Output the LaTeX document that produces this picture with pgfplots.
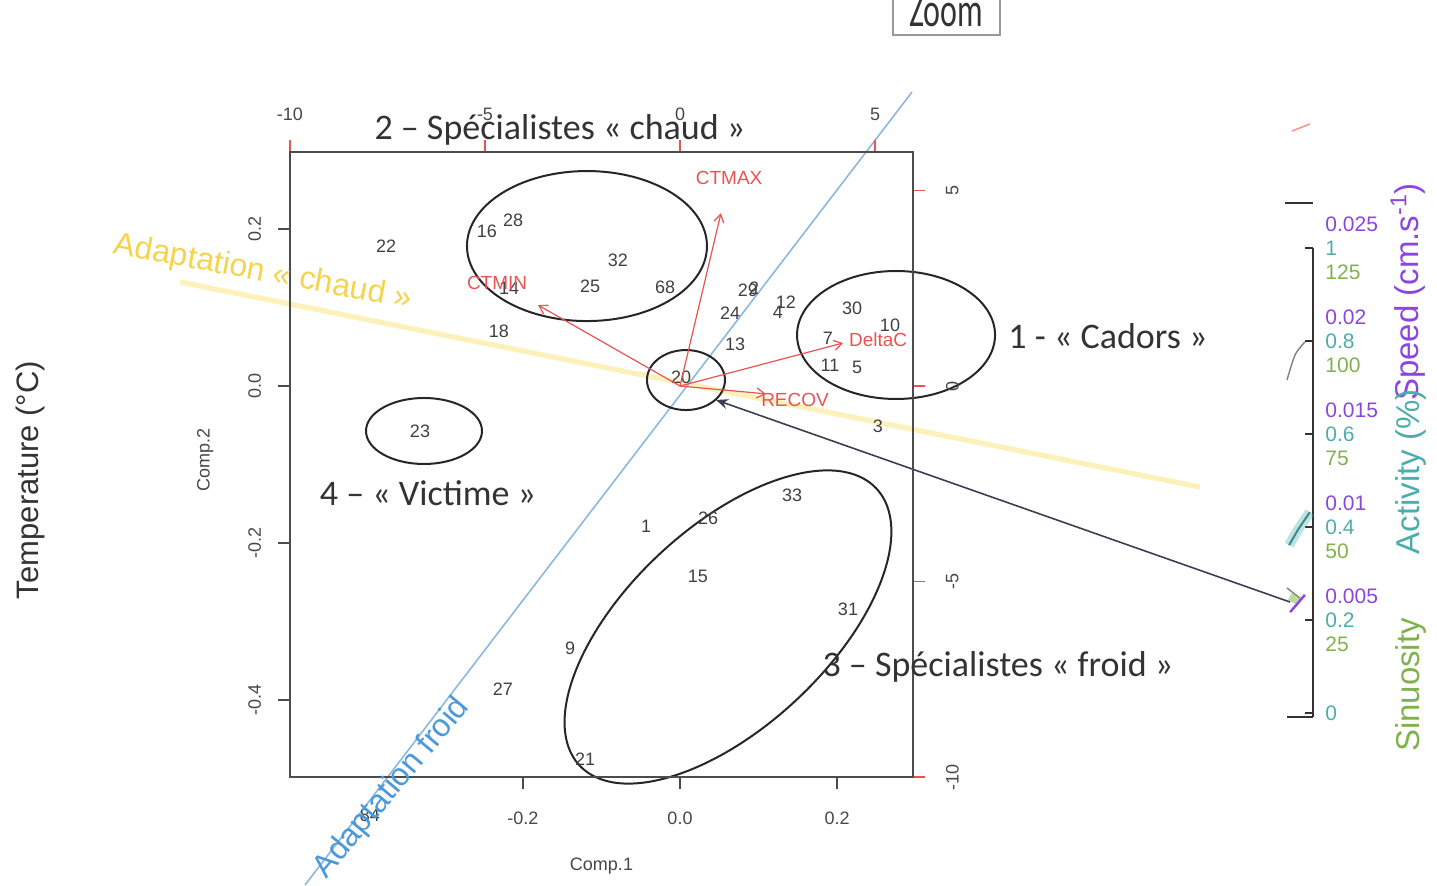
\documentclass[border=0pt]{standalone}
\usepackage{pgfplots}
\pgfplotsset{compat=1.18}
\usepackage{pgfplotstable}
\usepackage{fontspec}
\setmainfont{Liberation Sans}
\newfontfamily\calib{Carlito}
\usetikzlibrary{arrows.meta}

\definecolor{rtxt}{rgb}{0.28,0.28,0.28}
\definecolor{loadred}{rgb}{0.92,0.32,0.32}
\definecolor{froid}{rgb}{0.55,0.72,0.88}
\definecolor{froidtxt}{rgb}{0.30,0.60,0.85}
\definecolor{chaudline}{rgb}{0.99,0.94,0.70}
\definecolor{chaudtxt}{rgb}{0.96,0.83,0.30}
\definecolor{pointer}{rgb}{0.22,0.25,0.32}
\definecolor{spd}{rgb}{0.55,0.27,0.88}
\definecolor{act}{rgb}{0.30,0.68,0.68}
\definecolor{sinu}{rgb}{0.50,0.70,0.30}

% individual scores (Comp.1, Comp.2)
\pgfplotstableread{
x y lab
-0.3745 0.1783 22
-0.2459 0.1975 16
-0.2127 0.2115 28
-0.0790 0.1605 32
-0.1146 0.1274 25
-0.0191 0.1261 68
-0.2178 0.1248 14
-0.2306 0.0701 18
0.0866 0.1223 29
0.0943 0.1248 2
0.0637 0.0930 24
0.1350 0.1070 12
0.1248 0.0943 4
0.0701 0.0535 13
0.2191 0.0994 30
0.2675 0.0777 10
0.1885 0.0611 7
0.1911 0.0268 11
0.2255 0.0242 5
0.0013 0.0115 20
0.2522 -0.0510 3
-0.3312 -0.0573 23
-0.0433 -0.1783 1
0.0357 -0.1682 26
0.1427 -0.1389 33
0.0229 -0.2420 15
0.2140 -0.2841 31
-0.1401 -0.3338 9
-0.2255 -0.3860 27
-0.1210 -0.4752 21
-0.3949 -0.5465 84
}\scores

% variable loadings, label positions
\pgfplotstableread{
x y lab
1.26 5.32 CTMAX
-4.69 2.63 CTMIN
5.08 1.18 DeltaC
2.95 -0.36 RECOV
}\loadlab

\begin{document}
\begin{tikzpicture}
\useasboundingbox (0,0) rectangle (718.5pt,-442.5pt);
\clip (0,0) rectangle (718.5pt,-442.5pt);

% main biplot axis (scores)
\begin{axis}[
  at={(145pt,-388.5pt)}, anchor=south west,
  scale only axis, width=311.5pt, height=312.5pt,
  xmin=-0.4968, xmax=0.2968, ymin=-0.4981, ymax=0.2981,
  clip=false,
  axis line style={black!70, line width=0.8pt},
  tick style={black!70, line width=0.6pt},
  tick align=outside, major tick length=6pt,
  xtick pos=left, ytick pos=left,
  xtick={-0.2,0,0.2}, xticklabels={-0.2,0.0,0.2},
  ytick={-0.4,-0.2,0,0.2}, yticklabels={-0.4,-0.2,0.0,0.2},
  ticklabel style={font=\fontsize{9}{10}\selectfont, text=rtxt},
  xticklabel style={yshift=-8pt},
  yticklabel style={rotate=90, anchor=south, yshift=5pt},
  xlabel={Comp.1}, ylabel={Comp.2},
  xlabel style={at={(axis description cs:0.5,-0.142)}, anchor=center, font=\fontsize{9}{10}\selectfont, text=rtxt},
  ylabel style={at={(axis description cs:-0.136,0.507)}, anchor=center, font=\fontsize{9}{10}\selectfont, text=rtxt},
]
% interpretation lines
\addplot[chaudline, line width=2.6pt, opacity=0.9] coordinates {(-0.6369,0.1325) (0.6624,-0.1287)};
\addplot[froid, line width=0.8pt] coordinates {(-0.4777,-0.6357) (0.2955,0.3745)};
\addplot[pointer, line width=0.8pt, -{Stealth[length=6pt,width=5pt]}] coordinates {(0.7771,-0.2752) (0.0459,-0.0178)};

% score labels
\addplot[draw=none, mark=none, nodes near coords, point meta=explicit symbolic,
  nodes near coords align=center,
  every node near coord/.append style={font=\fontsize{9}{10}\selectfont, text=black!75, inner sep=0pt, anchor=center}]
  table[meta=lab] {\scores};

% groups
\draw[black!85, line width=1pt] (axis cs:-0.1185,0.1783) ellipse [x radius=60pt, y radius=37.5pt];
\draw[black!85, line width=1pt] (axis cs:0.0076,0.0076) ellipse [x radius=19.5pt, y radius=15pt];
\draw[black!85, line width=1pt] (axis cs:0.2752,0.0650) ellipse [x radius=49.5pt, y radius=32pt];
\draw[black!85, line width=1pt] (axis cs:-0.3261,-0.0573) ellipse [x radius=29pt, y radius=16.5pt];
\draw[black!85, line width=1pt, rotate around={43:(axis cs:0.0611,-0.3070)}] (axis cs:0.0611,-0.3070) ellipse [x radius=101.5pt, y radius=50pt];
\end{axis}

% loadings axis (top and right)
\begin{axis}[
  at={(145pt,-388.5pt)}, anchor=south west,
  scale only axis, width=311.5pt, height=312.5pt,
  xmin=-10, xmax=5.974, ymin=-10, ymax=5.985,
  clip=false,
  axis line style={black!70, line width=0.8pt},
  tick style={loadred, line width=0.6pt},
  tick align=outside, major tick length=6pt,
  xtick pos=right, ytick pos=right,
  xticklabel pos=right, yticklabel pos=right,
  xtick={-10,-5,0,5}, xticklabels={-10,-5,0,5},
  ytick={-10,-5,0,5}, yticklabels={-10,-5,0,5},
  ticklabel style={font=\fontsize{9}{10}\selectfont, text=rtxt},
  xticklabel style={yshift=6pt},
  yticklabel style={rotate=90, anchor=north, yshift=-7pt},
]
\addplot[loadred, line width=0.6pt, -{Straight Barb[length=4pt,width=5pt]}] coordinates {(0,0) (1.05,4.42)};
\addplot[loadred, line width=0.6pt, -{Straight Barb[length=4pt,width=5pt]}] coordinates {(0,0) (-3.64,2.07)};
\addplot[loadred, line width=0.6pt, -{Straight Barb[length=4pt,width=5pt]}] coordinates {(0,0) (4.18,1.10)};
\addplot[loadred, line width=0.6pt, -{Straight Barb[length=4pt,width=5pt]}] coordinates {(0,0) (2.2,-0.2)};
\addplot[draw=none, mark=none, nodes near coords, point meta=explicit symbolic,
  nodes near coords align=center,
  every node near coord/.append style={font=\fontsize{9.5}{10}\selectfont, text=loadred, inner sep=0pt, anchor=center}]
  table[meta=lab] {\loadlab};
\end{axis}

% cropped fragment of the neighbouring panel
\begin{axis}[
  at={(643.5pt,-358.5pt)}, anchor=south west,
  scale only axis, width=13pt, height=234.5pt,
  xmin=0, xmax=1, ymin=-0.0086, ymax=1.0,
  clip=false,
  axis x line*=bottom, axis y line*=right,
  xtick=\empty,
  ytick={0,0.2,0.4,0.6,0.8,1},
  yticklabels={
    {\textcolor{act}{0}},
    {\textcolor{spd}{0.005}\\\textcolor{act}{0.2}\\\textcolor{sinu}{25}},
    {\textcolor{spd}{0.01}\\\textcolor{act}{0.4}\\\textcolor{sinu}{50}},
    {\textcolor{spd}{0.015}\\\textcolor{act}{0.6}\\\textcolor{sinu}{75}},
    {\textcolor{spd}{0.02}\\\textcolor{act}{0.8}\\\textcolor{sinu}{100}},
    {\textcolor{spd}{0.025}\\\textcolor{act}{1}\\\textcolor{sinu}{125}}},
  tick align=inside, major tick length=4pt,
  axis line style={black!80, line width=1pt},
  tick style={black!80, line width=1pt},
  yticklabel style={anchor=west, align=left, font=\fontsize{10.5}{12}\selectfont, inner sep=0pt, xshift=6pt},
]
\addplot[gray, line width=0.7pt, smooth] coordinates {(0,0.716) (0.31,0.77) (0.69,0.798)};
\addplot[gray, line width=0.7pt] coordinates {(0,0.269) (0.5,0.247)};
\addplot[act, line width=5pt, opacity=0.35] coordinates {(0.08,0.361) (0.42,0.394) (0.88,0.432)};
\addplot[act!80!black, line width=1pt] coordinates {(0.08,0.361) (0.42,0.394) (0.88,0.432)};
\addplot[sinu, line width=4pt, opacity=0.5] coordinates {(0.1,0.25) (0.5,0.24)};
\addplot[spd, line width=1.2pt] coordinates {(0.12,0.217) (0.69,0.254)};
\end{axis}

\begin{scope}[x=0.5pt,y=-0.5pt]
\node[font=\calib\fontsize{18}{20}\selectfont, text=black!80] at (560,130) {2 – Spécialistes « chaud »};
\node[font=\calib\fontsize{18}{20}\selectfont, text=black!80] at (1108,336) {1 - « Cadors »};
\node[font=\calib\fontsize{18}{20}\selectfont, text=black!80] at (428,493) {4 – « Victime »};
\node[font=\calib\fontsize{18}{20}\selectfont, text=black!80] at (998,667) {3 – Spécialistes « froid »};
\node[font=\fontsize{16}{17}\selectfont, text=chaudtxt, rotate=-10.5] at (263,273) {Adaptation « chaud »};
\node[font=\fontsize{16}{17}\selectfont, text=froidtxt, rotate=50] at (392,788) {Adaptation froid};
\node[font=\fontsize{15.5}{17}\selectfont, text=black!80, rotate=90] at (30,480) {Temperature (°C)};
\draw[gray!80, line width=1pt] (893,-30) rectangle (1000,35);
\node[font=\calib\fontsize{16}{18}\selectfont, text=black!80, anchor=base] at (946,26) {\scalebox{1}[1.5]{Zoom}};
\draw[black!80, line width=1pt] (1285,203) -- (1313,203);
\draw[loadred!60, line width=0.8pt] (1292,131) -- (1310,124);
\node[font=\fontsize{16.5}{18}\selectfont, text=spd, rotate=90] at (1408,292) {Speed (cm.s\textsuperscript{-1})};
\node[font=\fontsize{16.5}{18}\selectfont, text=act, rotate=90] at (1411,472) {Activity (\%)};
\node[font=\fontsize{16.5}{18}\selectfont, text=sinu, rotate=90] at (1411,685) {Sinuosity};
\end{scope}
\end{tikzpicture}
\end{document}
